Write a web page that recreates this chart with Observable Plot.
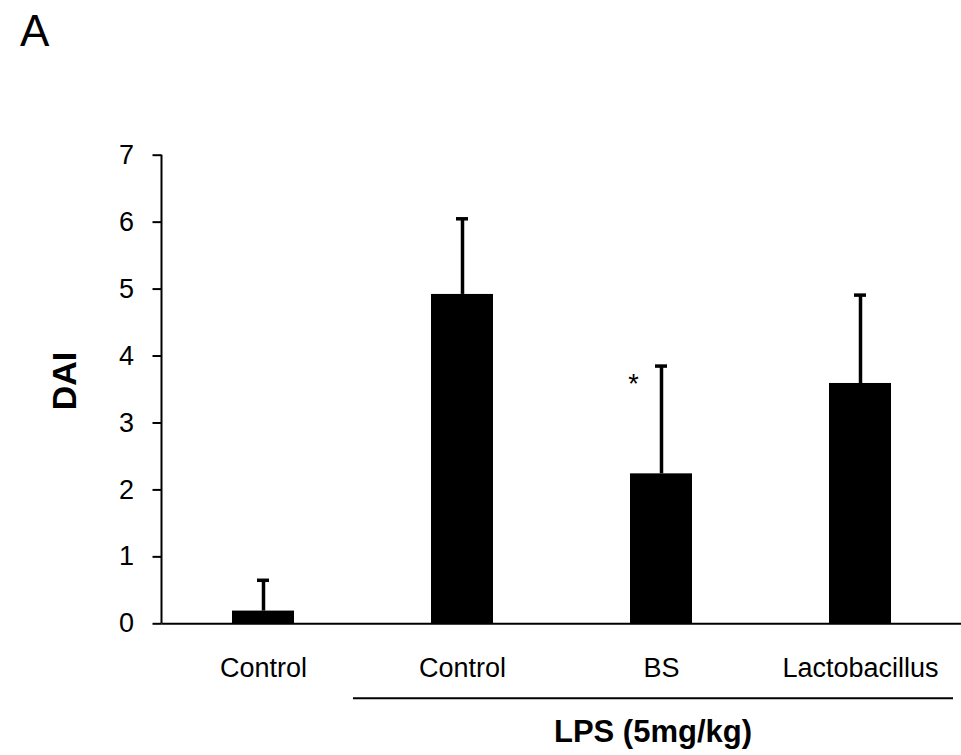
<!DOCTYPE html>
<html><head><meta charset="utf-8">
<script src="https://cdn.jsdelivr.net/npm/d3@7"></script>
<script src="https://cdn.jsdelivr.net/npm/@observablehq/plot@0.6"></script>
<style>body{margin:0;background:#fff;} svg{display:block}</style>
</head><body><div id="chart"></div>
<script>
const groups = ["ctrl", "lps_ctrl", "lps_bs", "lps_lacto"];
const groupLabels = ["Control", "Control", "BS", "Lactobacillus"];
const dai = [0.19, 4.92, 2.24, 3.59];
const sd = [0.46, 1.13, 1.61, 1.32];
const significant = [false, false, true, false];
const yTicks = [0, 1, 2, 3, 4, 5, 6, 7];
const panelLabel = "A";
const yLabel = "DAI";
const treatmentLabel = "LPS (5mg/kg)";
const treatmentGroups = ["lps_ctrl", "lps_bs", "lps_lacto"];

const data = groups.map((g, i) => ({group: g, mean: dai[i], upper: dai[i] + sd[i], sig: significant[i]}));
const font = "'Liberation Sans', Arial, sans-serif";

const plot = Plot.plot({
  width: 961, height: 755,
  marginTop: 154.7, marginBottom: 131.7, marginLeft: 161.5, marginRight: 0,
  style: {fontFamily: font, fontSize: "27px", background: "white", color: "black", overflow: "visible"},
  x: {domain: groups, paddingInner: 0.687, paddingOuter: 0.3435},
  y: {domain: [0, 7]},
  marks: [
    Plot.barY(data, {x: "group", y: "mean", fill: "black"}),
    Plot.ruleX(data, {x: "group", y1: "mean", y2: "upper", stroke: "black", strokeWidth: 3.5}),
    Plot.tickY(data, {x: "group", y: "upper", stroke: "black", strokeWidth: 3.5, insetLeft: 25, insetRight: 25}),
    Plot.ruleY([0], {stroke: "black", strokeWidth: 2}),
    Plot.text(data.filter(d => d.sig), {x: "group", y: "upper", text: () => "*", dx: -28, dy: 18, fontSize: 27, lineAnchor: "middle", fill: "black"}),
    Plot.axisY({ticks: yTicks, tickSize: 9, tickPadding: 19, fontSize: 27, label: null, strokeWidth: 2, tickFormat: d => String(d)}),
    Plot.axisX({tickSize: 0, tickPadding: 34, fontSize: 27, label: null, tickFormat: g => groupLabels[groups.indexOf(g)]})
  ]
});

const svg = d3.select(plot);
const xs = plot.scale("x"), ys = plot.scale("y");
const x0 = xs.range[0];
const bw = xs.bandwidth;
// y axis line
svg.append("line").attr("x1", x0).attr("x2", x0).attr("y1", ys.apply(7)).attr("y2", ys.apply(0))
  .attr("stroke", "black").attr("stroke-width", 2);
// treatment bracket line
const lx1 = xs.apply(treatmentGroups[0]) - 78;
const lx2 = xs.apply(treatmentGroups[treatmentGroups.length - 1]) + bw + 62;
const ly = ys.apply(0) + 75;
svg.append("line").attr("x1", lx1).attr("x2", lx2).attr("y1", ly).attr("y2", ly)
  .attr("stroke", "black").attr("stroke-width", 2);
svg.append("text").attr("x", (lx1 + lx2) / 2).attr("y", ly + 44).attr("text-anchor", "middle")
  .attr("font-size", 31).attr("font-weight", "bold").attr("font-family", font).attr("fill", "black").text(treatmentLabel);
// y label
svg.append("text").attr("transform", `translate(76,${(ys.apply(0) + ys.apply(7)) / 2 - 8}) rotate(-90)`)
  .attr("text-anchor", "middle").attr("font-size", 34).attr("font-weight", "bold")
  .attr("font-family", font).attr("fill", "black").text(yLabel);
// panel label
svg.append("text").attr("x", 20).attr("y", 46).attr("text-anchor", "start").attr("font-size", 44)
  .attr("font-family", font).attr("fill", "black").text(panelLabel);

document.getElementById("chart").appendChild(plot);
</script>
</body></html>
